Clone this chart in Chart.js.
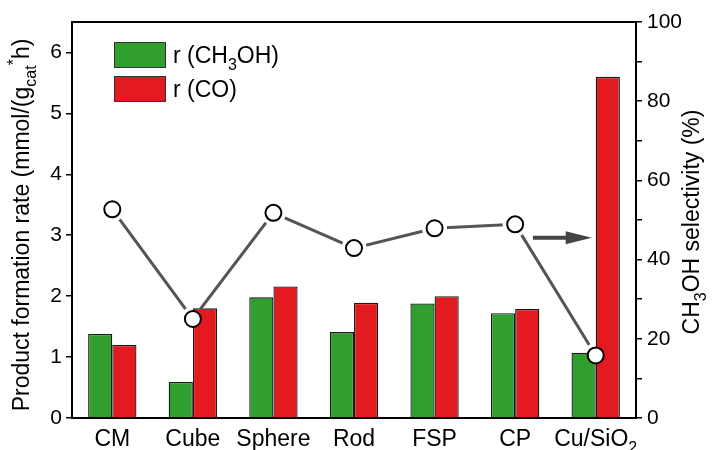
<!DOCTYPE html>
<html><head><meta charset="utf-8">
<script src="https://cdn.jsdelivr.net/npm/chart.js@4.4.0/dist/chart.umd.min.js"></script>
<style>html,body{margin:0;padding:0;background:#fff;}</style>
</head><body>
<canvas id="c" width="714" height="450"></canvas>
<script>
// ---- data ----
const categories = ['CM', 'Cube', 'Sphere', 'Rod', 'FSP', 'CP', 'Cu/SiO_{2}'];
const rateCH3OH = [1.38, 0.59, 1.98, 1.41, 1.88, 1.72, 1.07];
const rateCO = [1.20, 1.80, 2.16, 1.89, 2.00, 1.79, 5.60];
const selectivity = [52.7, 25.0, 51.8, 42.9, 47.9, 48.9, 15.8];
const leftTicks = [0, 1, 2, 3, 4, 5, 6];
const rightTicks = [0, 20, 40, 60, 80, 100];
const seriesNames = ['r (CH_{3}OH)', 'r (CO)'];
const leftTitle = 'Product formation rate (mmol/(g_{cat}^{*}h)';
const rightTitle = 'CH_{3}OH selectivity (%)';
// arrow annotation: from category position 5.22 to 5.95 at selectivity 45.5
const arrowFrom = 5.22, arrowTo = 5.95, arrowAt = 45.5;

const GREEN = '#319f2e', RED = '#e31b20', LINE = '#555555';
const FONT = '"Liberation Sans", Arial, Helvetica, sans-serif';
const FS = 21;   // tick labels
const FL = 23;   // other text

function parseRich(s) {
  const out = []; const re = /(_\{([^}]*)\})|(\^\{([^}]*)\})/g; let last = 0, m;
  while ((m = re.exec(s))) {
    if (m.index > last) out.push({ t: s.slice(last, m.index), k: 'n' });
    if (m[1]) out.push({ t: m[2], k: 'sub' }); else out.push({ t: m[4], k: 'sup' });
    last = re.lastIndex;
  }
  if (last < s.length) out.push({ t: s.slice(last), k: 'n' });
  return out;
}
function drawRich(ctx, s, x, y, size, align) {
  const segs = parseRich(s); const small = Math.round(size * 0.68);
  let w = 0;
  segs.forEach(g => { ctx.font = (g.k === 'n' ? size : small) + 'px ' + FONT; g.w = ctx.measureText(g.t).width; w += g.w; });
  let cx = align === 'center' ? x - w / 2 : align === 'right' ? x - w : x;
  ctx.textAlign = 'left'; ctx.textBaseline = 'alphabetic'; ctx.fillStyle = '#000';
  segs.forEach(g => {
    ctx.font = (g.k === 'n' ? size : small) + 'px ' + FONT;
    const dy = g.k === 'sub' ? size * 0.3 : g.k === 'sup' ? -size * 0.45 : 0;
    ctx.fillText(g.t, cx, y + dy); cx += g.w;
  });
}

// line with gaps around markers
const gapPlugin = {
  id: 'gap',
  beforeDatasetDraw(chart, args) {
    if (args.index !== 2) return;
    const ctx = chart.ctx; const meta = chart.getDatasetMeta(3);
    ctx.save(); ctx.beginPath();
    ctx.rect(0, 0, chart.width, chart.height);
    meta.data.forEach(p => { ctx.moveTo(p.x + 12.5, p.y); ctx.arc(p.x, p.y, 12.5, 0, Math.PI * 2); });
    ctx.clip('evenodd');
  },
  afterDatasetDraw(chart, args) { if (args.index === 2) chart.ctx.restore(); }
};

const decoPlugin = {
  id: 'deco',
  afterDraw(chart) {
    const ctx = chart.ctx, a = chart.chartArea, xs = chart.scales.x, y1 = chart.scales.y1;
    // frame
    ctx.save(); ctx.strokeStyle = '#000'; ctx.lineWidth = 2;
    ctx.strokeRect(a.left, a.top, a.right - a.left, a.bottom - a.top);
    ctx.restore();
    // x labels
    categories.forEach((c, i) => drawRich(ctx, c, xs.getPixelForValue(i), a.bottom + 28, FL, 'center'));
    // axis titles
    ctx.save(); ctx.translate(21, (a.top + a.bottom) / 2 + 5); ctx.rotate(-Math.PI / 2);
    drawRich(ctx, leftTitle, 0, 8, FL, 'center'); ctx.restore();
    ctx.save(); ctx.translate(691, (a.top + a.bottom) / 2 + 2); ctx.rotate(-Math.PI / 2);
    drawRich(ctx, rightTitle, 0, 8, FL, 'center'); ctx.restore();
    // legend
    const lx = a.left + 42, ly = a.top + 20;
    [GREEN, RED].forEach((col, i) => {
      const by = ly + i * 34;
      ctx.fillStyle = col; ctx.fillRect(lx, by, 52, 26);
      ctx.strokeStyle = '#333'; ctx.lineWidth = 1; ctx.strokeRect(lx + 0.5, by + 0.5, 51, 25);
      drawRich(ctx, seriesNames[i], lx + 59, by + 21, FL, 'left');
    });
    // arrow
    const x0 = xs.getPixelForValue(arrowFrom), x1 = xs.getPixelForValue(arrowTo), yy = y1.getPixelForValue(arrowAt);
    ctx.save(); ctx.fillStyle = '#444'; ctx.strokeStyle = '#444'; ctx.lineWidth = 4;
    ctx.beginPath(); ctx.moveTo(x0, yy); ctx.lineTo(x1 - 22, yy); ctx.stroke();
    ctx.beginPath(); ctx.moveTo(x1, yy); ctx.lineTo(x1 - 26, yy - 6.5); ctx.lineTo(x1 - 26, yy + 6.5); ctx.closePath(); ctx.fill();
    ctx.restore();
  }
};

new Chart(document.getElementById('c'), {
  data: {
    labels: categories,
    datasets: [
      { type: 'bar', label: seriesNames[0], data: rateCH3OH, yAxisID: 'y', backgroundColor: GREEN, borderColor: '#1a1a1a', borderWidth: 1.3, order: 5, categoryPercentage: 0.6, barPercentage: 1.0 },
      { type: 'bar', label: seriesNames[1], data: rateCO, yAxisID: 'y', backgroundColor: RED, borderColor: '#1a1a1a', borderWidth: 1.3, order: 5, categoryPercentage: 0.6, barPercentage: 1.0 },
      { type: 'line', label: 'sel-line', data: selectivity, yAxisID: 'y1', borderColor: LINE, borderWidth: 3, pointRadius: 0, tension: 0, fill: false, order: 2 },
      { type: 'line', label: 'sel-pts', data: selectivity, yAxisID: 'y1', showLine: false, pointRadius: 8, pointBackgroundColor: '#fff', pointBorderColor: '#000', pointBorderWidth: 2, order: 1, clip: false }
    ]
  },
  options: {
    responsive: false, animation: false, devicePixelRatio: 1,
    layout: { padding: { top: 22, left: 0, right: 0, bottom: 0 } },
    plugins: { legend: { display: false }, tooltip: { enabled: false } },
    scales: {
      x: { type: 'category', offset: true, grid: { display: false, drawTicks: false }, border: { display: false }, ticks: { display: false }, afterFit(s) { s.height = 32; } },
      y: { position: 'left', min: 0, max: 6.5,
        afterBuildTicks(s) { s.ticks = leftTicks.map(v => ({ value: v })); },
        ticks: { font: { size: FS, family: FONT }, color: '#000', padding: 4 },
        grid: { drawOnChartArea: false, tickLength: 6, color: '#000', lineWidth: 1.5 }, border: { display: false },
        afterFit(s) { s.width = 72; } },
      y1: { position: 'right', min: 0, max: 100,
        afterBuildTicks(s) { const t = []; for (let v = 0; v <= 100; v += 10) t.push({ value: v }); s.ticks = t; },
        ticks: { font: { size: FS, family: FONT }, color: '#000', padding: 5, callback: v => rightTicks.includes(v) ? String(v) : '' },
        grid: { drawOnChartArea: false, tickLength: 6, color: '#000', lineWidth: 1.5 }, border: { display: false },
        afterFit(s) { s.width = 78; } }
    }
  },
  plugins: [gapPlugin, decoPlugin]
});
</script>
</body></html>
